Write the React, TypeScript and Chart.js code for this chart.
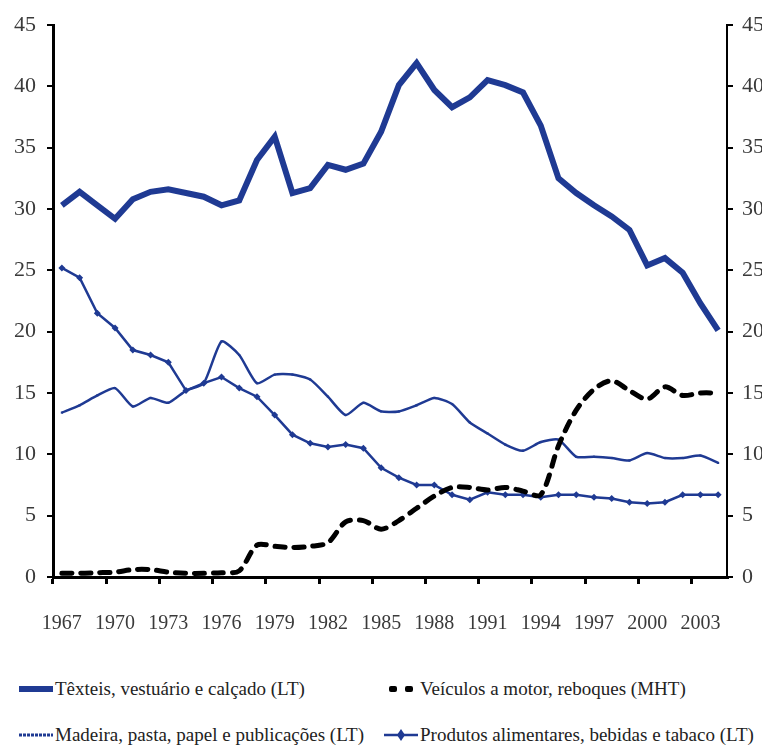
import React, { useEffect, useRef } from "react";
import { Chart, registerables } from "chart.js";

Chart.register(...registerables);

const years = Array.from({ length: 38 }, (_, i) => String(1967 + i));

const textiles = [30.3, 31.4, 30.3, 29.2, 30.8, 31.4, 31.6, 31.3, 31.0, 30.3, 30.7, 34.0, 35.9, 31.3, 31.7, 33.6, 33.2, 33.7, 36.3, 40.1, 41.9, 39.7, 38.3, 39.1, 40.5, 40.1, 39.5, 36.8, 32.5, 31.3, 30.3, 29.4, 28.3, 25.4, 26.0, 24.8, 22.3, 20.1];
const madeira = [13.4, 14.0, 14.8, 15.4, 13.9, 14.6, 14.2, 15.2, 15.8, 19.2, 18.1, 15.8, 16.5, 16.5, 16.1, 14.7, 13.2, 14.2, 13.5, 13.5, 14.0, 14.6, 14.1, 12.6, 11.7, 10.8, 10.3, 11.0, 11.2, 9.8, 9.8, 9.7, 9.5, 10.1, 9.7, 9.7, 9.9, 9.3];
const veiculos = [0.3, 0.3, 0.35, 0.4, 0.6, 0.6, 0.4, 0.3, 0.3, 0.35, 0.5, 2.6, 2.5, 2.4, 2.5, 2.8, 4.5, 4.6, 3.9, 4.6, 5.6, 6.6, 7.3, 7.3, 7.1, 7.3, 7.0, 6.7, 10.7, 13.6, 15.3, 16.0, 15.2, 14.5, 15.5, 14.8, 15.0, 15.0];
const alimentares = [25.2, 24.4, 21.5, 20.3, 18.5, 18.1, 17.5, 15.2, 15.8, 16.3, 15.4, 14.7, 13.2, 11.6, 10.9, 10.6, 10.8, 10.5, 8.9, 8.1, 7.5, 7.5, 6.7, 6.3, 6.9, 6.7, 6.7, 6.5, 6.7, 6.7, 6.5, 6.4, 6.1, 6.0, 6.1, 6.7, 6.7, 6.7];

const seriesNames = [
  "Têxteis, vestuário e calçado (LT)",
  "Veículos a motor, reboques (MHT)",
  "Madeira, pasta, papel e publicações (LT)",
  "Produtos alimentares, bebidas e tabaco (LT)",
];

const NAVY = "#1f3a93";
const TEXT = "#3a3a3a";
const FONT = '"Liberation Serif", "Times New Roman", Tinos, serif';

function Swatch({ kind }: { kind: number }) {
  return (
    <svg width="36" height="14" style={{ display: "block" }}>
      {kind === 0 && <line x1="1" y1="7" x2="35" y2="7" stroke={NAVY} strokeWidth="6" />}
      {kind === 1 && (
        <g>
          <rect x="6" y="4" width="8" height="6" rx="2" fill="#000" />
          <rect x="22" y="4" width="8" height="6" rx="2" fill="#000" />
        </g>
      )}
      {kind === 2 && <line x1="1" y1="7" x2="35" y2="7" stroke={NAVY} strokeWidth="3" strokeDasharray="3 1" />}
      {kind === 3 && (
        <g>
          <line x1="1" y1="7" x2="35" y2="7" stroke={NAVY} strokeWidth="2.5" />
          <polygon points="18,1 22,7 18,13 14,7" fill={NAVY} />
        </g>
      )}
    </svg>
  );
}

export default function App() {
  const ref = useRef<HTMLCanvasElement | null>(null);

  useEffect(() => {
    if (!ref.current) return;
    const chart = new Chart(ref.current, {
      type: "line",
      data: {
        labels: years,
        datasets: [
          {
            label: seriesNames[0],
            data: textiles,
            borderColor: NAVY,
            backgroundColor: NAVY,
            borderWidth: 6,
            pointRadius: 0,
            tension: 0,
            yAxisID: "y",
          },
          {
            label: seriesNames[1],
            data: veiculos,
            borderColor: "#000",
            backgroundColor: "#000",
            borderWidth: 5,
            borderDash: [10, 9],
            borderCapStyle: "round",
            pointRadius: 0,
            tension: 0.3,
            yAxisID: "y1",
          },
          {
            label: seriesNames[2],
            data: madeira,
            borderColor: NAVY,
            backgroundColor: NAVY,
            borderWidth: 2.5,
            pointStyle: "rect",
            pointRadius: 1.5,
            pointBorderWidth: 0,
            tension: 0.2,
            yAxisID: "y",
          },
          {
            label: seriesNames[3],
            data: alimentares,
            borderColor: NAVY,
            backgroundColor: NAVY,
            borderWidth: 2.5,
            pointStyle: "rectRot",
            pointRadius: 3.5,
            pointBorderWidth: 0,
            tension: 0,
            yAxisID: "y",
          },
        ],
      },
      options: {
        animation: false,
        responsive: false,
        maintainAspectRatio: false,
        layout: { padding: { top: 25, left: 0, right: 0, bottom: 0 } },
        plugins: { legend: { display: false }, tooltip: { enabled: false } },
        scales: {
          x: {
            type: "category",
            offset: true,
            grid: {
              offset: true,
              drawOnChartArea: false,
              drawTicks: true,
              tickLength: 7,
              lineWidth: 3,
              color: (ctx: any) => (typeof ctx.index === "number" && ctx.index % 3 === 0 ? "#000" : "rgba(0,0,0,0)"),
            },
            border: { display: true, color: "#000", width: 3 },
            ticks: {
              autoSkip: false,
              maxRotation: 0,
              minRotation: 0,
              padding: 28,
              color: TEXT,
              font: { family: FONT, size: 20 },
              callback: (_v: any, i: number) => (i % 3 === 0 ? years[i] : ""),
            },
            afterFit: (scale: any) => {
              scale.height = 83;
            },
          },
          y: {
            position: "left",
            min: 0,
            max: 45,
            ticks: {
              stepSize: 5,
              padding: 11,
              color: TEXT,
              font: { family: FONT, size: 22 },
            },
            grid: { drawOnChartArea: false, drawTicks: true, tickLength: 6, lineWidth: 2, color: "#000" },
            border: { display: true, color: "#000", width: 3 },
            afterFit: (scale: any) => {
              scale.width = 53;
            },
          },
          y1: {
            position: "right",
            min: 0,
            max: 45,
            ticks: {
              stepSize: 5,
              padding: 9,
              color: TEXT,
              font: { family: FONT, size: 22 },
            },
            grid: { drawOnChartArea: false, drawTicks: true, tickLength: 6, lineWidth: 2, color: "#000" },
            border: { display: true, color: "#000", width: 2 },
            afterFit: (scale: any) => {
              scale.width = 35;
            },
          },
        },
      },
    });
    return () => chart.destroy();
  }, []);

  const legendText: React.CSSProperties = {
    fontFamily: FONT,
    fontSize: 19,
    color: "#222",
    whiteSpace: "nowrap",
    marginLeft: 1,
  };
  const item = (kind: number, left: number, top: number) => (
    <div style={{ position: "absolute", left, top, display: "flex", alignItems: "center" }}>
      <Swatch kind={kind} />
      <span style={legendText}>{seriesNames[kind]}</span>
    </div>
  );

  return (
    <div style={{ position: "fixed", left: 0, top: 0, width: 762, height: 753, background: "#fff" }}>
      <canvas ref={ref} width={762} height={660} style={{ position: "absolute", left: 0, top: 0 }} />
      {item(0, 18, 678)}
      {item(1, 383, 678)}
      {item(2, 18, 724)}
      {item(3, 383, 724)}
    </div>
  );
}
